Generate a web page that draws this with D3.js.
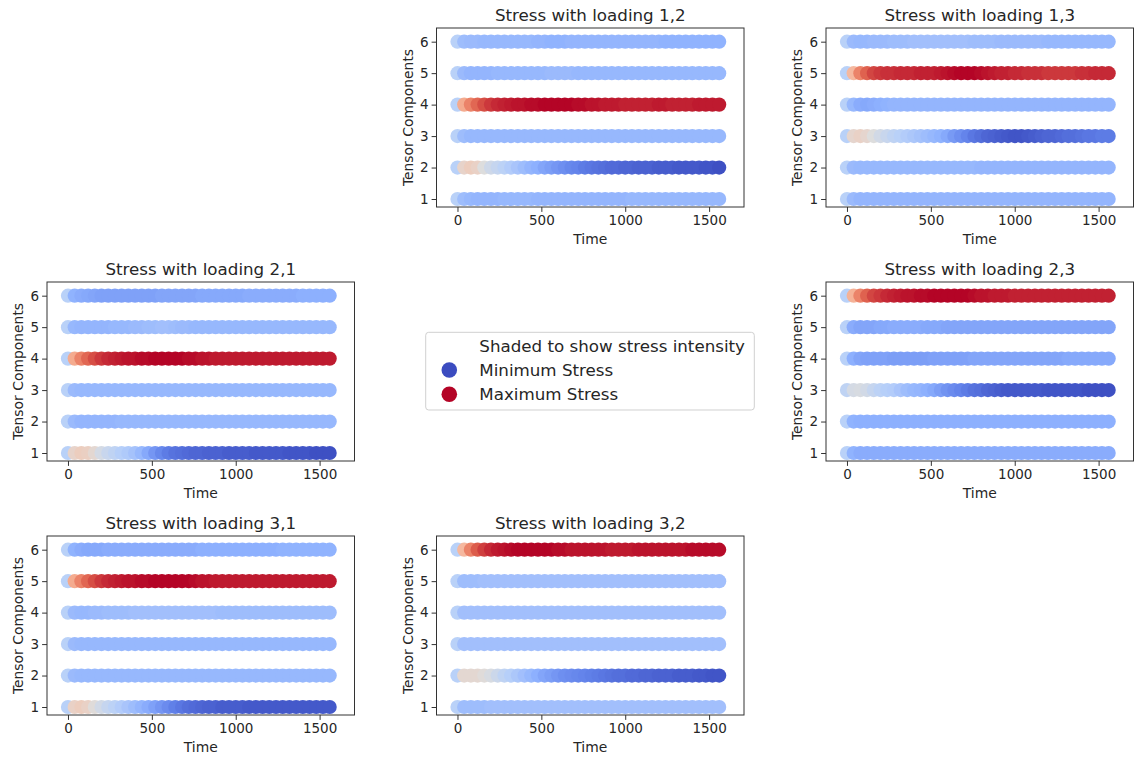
<!DOCTYPE html>
<html>
<head>
<meta charset="utf-8">
<script src="https://cdn.jsdelivr.net/npm/d3@7"></script>
<style>
  body { margin: 0; background: #fff; }
  svg { font-family: "DejaVu Sans", sans-serif; }
</style>
</head>
<body>
<svg id="chart" width="1135" height="761"></svg>
<script>
// sample times (x) and tensor components (y)
var times = [0, 40, 80, 120, 160, 200, 240, 280, 320, 360,
             400, 440, 480, 520, 560, 600, 640, 680, 720, 760,
             800, 840, 880, 920, 960, 1000, 1040, 1080, 1120, 1160,
             1200, 1240, 1280, 1320, 1360, 1400, 1440, 1480, 1520, 1560];
var components = [1, 2, 3, 4, 5, 6];
var xTicks = [0, 500, 1000, 1500];
var loadings = ["1,2", "1,3", "2,1", "2,3", "3,1", "3,2"];

// stress shade (0 = minimum stress, 1 = maximum stress), one row per component
var shade12 = [
  [0.38,0.30,0.28,0.27,0.27,0.27,0.27,0.28,0.28,0.28, 0.28,0.28,0.27,0.27,0.27,0.27,0.27,0.27,0.27,0.27, 0.27,0.27,0.27,0.27,0.27,0.27,0.28,0.28,0.28,0.28, 0.28,0.28,0.28,0.28,0.28,0.28,0.28,0.28,0.28,0.28],
  [0.38,0.55,0.58,0.56,0.50,0.45,0.42,0.39,0.36,0.33, 0.30,0.27,0.25,0.22,0.20,0.18,0.16,0.14,0.13,0.11, 0.10,0.09,0.08,0.07,0.07,0.06,0.06,0.05,0.05,0.05, 0.04,0.04,0.04,0.03,0.03,0.03,0.03,0.02,0.02,0.01],
  [0.38,0.30,0.28,0.28,0.28,0.28,0.28,0.28,0.28,0.28, 0.28,0.28,0.28,0.28,0.28,0.28,0.28,0.28,0.28,0.28, 0.28,0.28,0.28,0.28,0.28,0.28,0.28,0.28,0.28,0.28, 0.28,0.28,0.28,0.28,0.28,0.28,0.28,0.28,0.28,0.28],
  [0.38,0.70,0.80,0.86,0.90,0.93,0.95,0.96,0.97,0.98, 0.98,0.99,0.99,1.00,1.00,1.00,1.00,1.00,0.99,0.99, 0.98,0.98,0.97,0.97,0.97,0.96,0.96,0.96,0.96,0.96, 0.97,0.97,0.96,0.96,0.96,0.96,0.97,0.97,0.97,0.97],
  [0.38,0.29,0.27,0.27,0.27,0.27,0.28,0.28,0.28,0.28, 0.28,0.28,0.28,0.28,0.29,0.29,0.29,0.29,0.28,0.28, 0.28,0.28,0.28,0.28,0.28,0.28,0.28,0.28,0.28,0.28, 0.28,0.28,0.28,0.28,0.28,0.28,0.28,0.28,0.28,0.28],
  [0.38,0.30,0.29,0.29,0.28,0.28,0.28,0.28,0.28,0.28, 0.28,0.28,0.27,0.27,0.26,0.26,0.26,0.27,0.27,0.27, 0.27,0.27,0.27,0.27,0.27,0.27,0.27,0.27,0.27,0.27, 0.27,0.26,0.26,0.26,0.26,0.26,0.26,0.26,0.26,0.26]
];
var shade13 = [
  [0.38,0.29,0.27,0.27,0.27,0.27,0.27,0.27,0.27,0.27, 0.27,0.27,0.27,0.27,0.27,0.27,0.27,0.27,0.27,0.27, 0.27,0.27,0.27,0.27,0.27,0.27,0.27,0.27,0.27,0.27, 0.27,0.27,0.27,0.27,0.27,0.27,0.27,0.27,0.27,0.27],
  [0.38,0.29,0.28,0.28,0.28,0.28,0.28,0.28,0.28,0.28, 0.28,0.28,0.28,0.28,0.28,0.28,0.28,0.28,0.28,0.28, 0.27,0.27,0.27,0.27,0.27,0.27,0.27,0.27,0.27,0.27, 0.27,0.27,0.27,0.27,0.27,0.27,0.27,0.27,0.27,0.27],
  [0.38,0.54,0.56,0.54,0.50,0.46,0.43,0.40,0.38,0.36, 0.34,0.32,0.30,0.28,0.26,0.23,0.19,0.16,0.13,0.10, 0.08,0.06,0.05,0.04,0.03,0.02,0.02,0.03,0.04,0.05, 0.06,0.06,0.07,0.08,0.08,0.09,0.10,0.10,0.11,0.11],
  [0.38,0.28,0.24,0.23,0.24,0.25,0.26,0.27,0.27,0.27, 0.27,0.27,0.27,0.27,0.27,0.27,0.27,0.27,0.27,0.27, 0.27,0.27,0.27,0.27,0.27,0.27,0.27,0.27,0.27,0.27, 0.27,0.27,0.27,0.27,0.27,0.27,0.27,0.27,0.27,0.27],
  [0.38,0.66,0.80,0.87,0.91,0.93,0.94,0.94,0.95,0.95, 0.95,0.96,0.96,0.96,0.97,0.98,0.99,1.00,1.00,1.00, 0.99,0.98,0.97,0.96,0.96,0.95,0.95,0.94,0.94,0.94, 0.93,0.93,0.93,0.93,0.93,0.94,0.94,0.95,0.95,0.95],
  [0.38,0.29,0.28,0.28,0.29,0.29,0.29,0.30,0.30,0.30, 0.31,0.31,0.31,0.31,0.31,0.31,0.31,0.31,0.31,0.30, 0.30,0.30,0.30,0.29,0.29,0.29,0.29,0.29,0.29,0.29, 0.28,0.28,0.28,0.28,0.28,0.28,0.28,0.28,0.28,0.28]
];
var shade21 = [
  [0.38,0.55,0.58,0.57,0.53,0.47,0.43,0.40,0.37,0.35, 0.32,0.28,0.23,0.18,0.14,0.11,0.09,0.08,0.07,0.06, 0.06,0.05,0.05,0.05,0.04,0.04,0.04,0.04,0.03,0.03, 0.03,0.03,0.03,0.02,0.02,0.02,0.02,0.01,0.01,0.01],
  [0.38,0.29,0.27,0.27,0.27,0.27,0.27,0.27,0.28,0.28, 0.28,0.28,0.28,0.28,0.28,0.28,0.28,0.28,0.28,0.28, 0.28,0.28,0.28,0.28,0.28,0.28,0.28,0.28,0.28,0.28, 0.28,0.28,0.28,0.28,0.28,0.28,0.28,0.28,0.28,0.28],
  [0.38,0.29,0.28,0.28,0.28,0.28,0.28,0.28,0.28,0.28, 0.28,0.28,0.28,0.28,0.28,0.28,0.28,0.28,0.28,0.28, 0.28,0.28,0.28,0.28,0.28,0.28,0.28,0.28,0.28,0.28, 0.28,0.28,0.28,0.28,0.28,0.28,0.28,0.28,0.28,0.28],
  [0.38,0.70,0.80,0.86,0.90,0.93,0.95,0.96,0.97,0.98, 0.98,0.99,0.99,1.00,1.00,1.00,1.00,1.00,0.99,0.99, 0.98,0.98,0.97,0.97,0.97,0.97,0.97,0.97,0.97,0.97, 0.97,0.97,0.97,0.97,0.97,0.97,0.97,0.97,0.97,0.97],
  [0.38,0.28,0.27,0.27,0.27,0.27,0.27,0.28,0.28,0.28, 0.29,0.29,0.30,0.30,0.31,0.31,0.30,0.29,0.29,0.28, 0.28,0.28,0.28,0.28,0.28,0.28,0.28,0.28,0.28,0.28, 0.28,0.28,0.28,0.28,0.28,0.28,0.28,0.28,0.28,0.28],
  [0.38,0.26,0.24,0.23,0.22,0.21,0.21,0.21,0.21,0.21, 0.21,0.21,0.21,0.21,0.22,0.22,0.22,0.22,0.22,0.22, 0.23,0.23,0.23,0.23,0.23,0.23,0.23,0.24,0.24,0.24, 0.24,0.24,0.24,0.24,0.24,0.25,0.25,0.25,0.25,0.25]
];
var shade23 = [
  [0.38,0.26,0.24,0.24,0.24,0.24,0.24,0.24,0.24,0.24, 0.24,0.24,0.24,0.24,0.24,0.24,0.24,0.24,0.24,0.24, 0.24,0.24,0.24,0.24,0.24,0.24,0.24,0.24,0.24,0.24, 0.24,0.24,0.24,0.24,0.24,0.24,0.24,0.24,0.24,0.24],
  [0.38,0.26,0.25,0.25,0.25,0.25,0.25,0.25,0.25,0.25, 0.25,0.25,0.25,0.25,0.25,0.25,0.25,0.25,0.25,0.25, 0.25,0.25,0.25,0.25,0.25,0.25,0.25,0.25,0.25,0.25, 0.25,0.25,0.25,0.25,0.25,0.25,0.25,0.25,0.25,0.25],
  [0.40,0.47,0.48,0.46,0.42,0.39,0.37,0.36,0.33,0.30, 0.28,0.27,0.25,0.23,0.20,0.17,0.15,0.13,0.11,0.09, 0.08,0.06,0.05,0.04,0.03,0.03,0.03,0.03,0.03,0.03, 0.02,0.02,0.02,0.02,0.02,0.02,0.01,0.01,0.01,0.01],
  [0.38,0.25,0.22,0.21,0.21,0.21,0.21,0.20,0.20,0.20, 0.20,0.20,0.20,0.21,0.21,0.21,0.21,0.21,0.21,0.22, 0.22,0.22,0.22,0.22,0.22,0.22,0.22,0.22,0.22,0.22, 0.22,0.22,0.22,0.23,0.23,0.23,0.23,0.23,0.23,0.23],
  [0.38,0.24,0.22,0.22,0.22,0.23,0.23,0.24,0.24,0.24, 0.24,0.24,0.23,0.23,0.23,0.22,0.22,0.22,0.22,0.22, 0.22,0.22,0.22,0.22,0.22,0.22,0.22,0.22,0.22,0.22, 0.22,0.22,0.22,0.22,0.22,0.22,0.22,0.22,0.22,0.22],
  [0.38,0.68,0.80,0.87,0.91,0.93,0.95,0.96,0.97,0.98, 0.98,0.99,0.99,1.00,1.00,1.00,1.00,1.00,1.00,0.99, 0.98,0.98,0.97,0.97,0.97,0.96,0.96,0.96,0.96,0.96, 0.96,0.96,0.96,0.96,0.96,0.96,0.96,0.96,0.96,0.96]
];
var shade31 = [
  [0.38,0.56,0.58,0.56,0.51,0.46,0.42,0.39,0.36,0.33, 0.30,0.27,0.24,0.21,0.18,0.15,0.12,0.10,0.08,0.07, 0.06,0.05,0.05,0.04,0.04,0.04,0.04,0.03,0.03,0.03, 0.03,0.03,0.03,0.03,0.03,0.03,0.03,0.03,0.03,0.03],
  [0.38,0.29,0.28,0.28,0.28,0.28,0.28,0.28,0.28,0.28, 0.28,0.28,0.28,0.28,0.28,0.28,0.28,0.28,0.28,0.28, 0.28,0.28,0.28,0.28,0.28,0.28,0.28,0.28,0.28,0.28, 0.28,0.28,0.28,0.28,0.28,0.28,0.28,0.28,0.28,0.28],
  [0.38,0.29,0.28,0.28,0.28,0.28,0.28,0.28,0.28,0.28, 0.28,0.28,0.28,0.28,0.28,0.28,0.28,0.28,0.28,0.28, 0.28,0.28,0.28,0.28,0.28,0.28,0.28,0.28,0.28,0.28, 0.28,0.28,0.28,0.28,0.28,0.28,0.28,0.28,0.28,0.28],
  [0.38,0.29,0.28,0.28,0.29,0.29,0.30,0.30,0.30,0.30, 0.31,0.31,0.31,0.31,0.31,0.31,0.31,0.31,0.31,0.31, 0.31,0.31,0.31,0.30,0.30,0.30,0.30,0.30,0.30,0.30, 0.30,0.30,0.30,0.30,0.30,0.30,0.30,0.30,0.30,0.30],
  [0.38,0.70,0.80,0.86,0.90,0.93,0.95,0.96,0.97,0.98, 0.98,0.99,0.99,1.00,1.00,1.00,1.00,1.00,1.00,0.99, 0.98,0.98,0.97,0.97,0.97,0.97,0.97,0.97,0.97,0.97, 0.97,0.97,0.97,0.97,0.97,0.97,0.97,0.97,0.97,0.97],
  [0.38,0.26,0.24,0.23,0.23,0.23,0.24,0.24,0.24,0.24, 0.24,0.24,0.24,0.24,0.24,0.24,0.24,0.24,0.24,0.24, 0.25,0.25,0.25,0.25,0.25,0.25,0.25,0.25,0.25,0.25, 0.25,0.25,0.26,0.26,0.26,0.26,0.26,0.26,0.26,0.26]
];
var shade32 = [
  [0.38,0.30,0.30,0.30,0.30,0.31,0.31,0.31,0.31,0.31, 0.31,0.31,0.31,0.31,0.31,0.31,0.31,0.31,0.31,0.31, 0.31,0.31,0.31,0.31,0.31,0.31,0.31,0.31,0.31,0.31, 0.31,0.31,0.31,0.31,0.31,0.31,0.31,0.31,0.31,0.31],
  [0.38,0.53,0.53,0.53,0.51,0.48,0.44,0.40,0.37,0.34, 0.31,0.28,0.25,0.22,0.20,0.18,0.16,0.15,0.14,0.13, 0.12,0.11,0.10,0.09,0.08,0.08,0.07,0.07,0.06,0.06, 0.05,0.05,0.05,0.04,0.04,0.04,0.03,0.03,0.02,0.02],
  [0.38,0.31,0.31,0.31,0.31,0.31,0.31,0.31,0.31,0.31, 0.31,0.31,0.31,0.31,0.31,0.31,0.31,0.31,0.31,0.31, 0.31,0.31,0.31,0.31,0.31,0.31,0.31,0.31,0.31,0.31, 0.31,0.31,0.31,0.31,0.31,0.31,0.31,0.31,0.31,0.31],
  [0.38,0.31,0.31,0.31,0.31,0.31,0.31,0.31,0.31,0.31, 0.31,0.31,0.31,0.31,0.31,0.31,0.31,0.31,0.31,0.31, 0.31,0.31,0.31,0.31,0.31,0.31,0.31,0.31,0.31,0.31, 0.31,0.31,0.31,0.31,0.31,0.31,0.31,0.31,0.31,0.31],
  [0.38,0.30,0.30,0.30,0.31,0.31,0.31,0.31,0.31,0.31, 0.31,0.31,0.31,0.31,0.31,0.31,0.31,0.31,0.31,0.31, 0.31,0.31,0.31,0.31,0.31,0.31,0.31,0.31,0.31,0.31, 0.31,0.31,0.31,0.31,0.31,0.31,0.31,0.31,0.31,0.31],
  [0.38,0.66,0.80,0.88,0.92,0.95,0.97,0.98,0.99,1.00, 1.00,1.00,1.00,1.00,1.00,0.99,0.99,0.98,0.98,0.98, 0.98,0.98,0.98,0.97,0.97,0.97,0.97,0.98,0.98,0.98, 0.98,0.98,0.98,0.98,0.98,0.99,0.99,0.99,0.99,0.99]
];
var shades = [shade12, shade13, shade21, shade23, shade31, shade32];

// grid cell [row, col] of each panel
var cells = [[0, 1], [0, 2], [1, 0], [1, 2], [2, 0], [2, 1]];

var legendLabels = ["Shaded to show stress intensity", "Minimum Stress", "Maximum Stress"];
var legendShades = [null, 0, 1];

// coolwarm colormap
var coolwarm = d3.piecewise(d3.interpolateRgb, [
  "rgb(59,76,192)", "rgb(98,130,234)", "rgb(141,176,254)", "rgb(184,208,249)",
  "rgb(221,221,221)", "rgb(245,196,173)", "rgb(244,154,123)", "rgb(222,96,77)", "rgb(180,4,38)"
]);

var colLeft = [47, 436.5, 826];
var rowTop = [28, 282, 536];
var width = 307.5;
var height = 179;
var textColor = "#262626";

var svg = d3.select("#chart");

var x = d3.scaleLinear().domain([-125, 1708]).range([0, width]);
var y = d3.scaleLinear().domain([0.746, 6.435]).range([height, 0]);

loadings.forEach(function (name, p) {
  var g = svg.append("g")
    .attr("transform", "translate(" + colLeft[cells[p][1]] + "," + rowTop[cells[p][0]] + ")");

  // scatter points, one row per component
  var rows = g.selectAll("g.comp")
    .data(shades[p])
    .join("g")
    .attr("class", "comp");

  rows.selectAll("circle")
    .data(function (vals, i) {
      return vals.map(function (v, k) { return { t: times[k], c: components[i], v: v }; });
    })
    .join("circle")
    .attr("cx", function (d) { return x(d.t); })
    .attr("cy", function (d) { return y(d.c); })
    .attr("r", 7.1)
    .style("fill", function (d) { return coolwarm(d.v); });

  var xAxis = g.append("g")
    .attr("transform", "translate(0," + height + ")")
    .call(d3.axisBottom(x).tickValues(xTicks).tickFormat(d3.format("d")).tickSize(4.9).tickPadding(4));
  var yAxis = g.append("g")
    .call(d3.axisLeft(y).tickValues(components).tickFormat(d3.format("d")).tickSize(4.9).tickPadding(3));

  [xAxis, yAxis].forEach(function (a) {
    a.select(".domain").remove();
    a.selectAll("line").attr("stroke", "#333");
    a.selectAll("text")
      .attr("fill", textColor)
      .attr("font-size", 13.5)
      .attr("font-family", "DejaVu Sans");
  });

  g.append("rect")
    .attr("width", width)
    .attr("height", height)
    .style("fill", "none")
    .style("stroke", "#333")
    .style("stroke-width", 1);

  g.append("text")
    .attr("x", width / 2)
    .attr("y", -7.5)
    .attr("text-anchor", "middle")
    .style("font-size", "16.7px")
    .style("fill", textColor)
    .text("Stress with loading " + name);

  g.append("text")
    .attr("x", width / 2)
    .attr("y", height + 36.5)
    .attr("text-anchor", "middle")
    .style("font-size", "13.9px")
    .style("fill", textColor)
    .text("Time");

  g.append("text")
    .attr("transform", "translate(-23.7," + height / 2 + ") rotate(-90)")
    .attr("text-anchor", "middle")
    .style("font-size", "13.9px")
    .style("fill", textColor)
    .text("Tensor Components");
});

// legend in the middle cell
var legend = svg.append("g").attr("transform", "translate(425.7,332.3)");

legend.append("rect")
  .attr("width", 328.6)
  .attr("height", 77.7)
  .attr("rx", 3)
  .style("fill", "#fff")
  .style("stroke", "#d0d0d0")
  .style("stroke-width", 1);

legendLabels.forEach(function (label, i) {
  var cy = 13.5 + i * 24.2;
  if (legendShades[i] !== null) {
    legend.append("circle")
      .attr("cx", 23.6)
      .attr("cy", cy)
      .attr("r", 7.8)
      .style("fill", coolwarm(legendShades[i]));
  }
  legend.append("text")
    .attr("x", 53.6)
    .attr("y", cy)
    .attr("dy", "0.35em")
    .style("font-size", "16.7px")
    .style("fill", textColor)
    .text(label);
});
</script>
</body>
</html>
